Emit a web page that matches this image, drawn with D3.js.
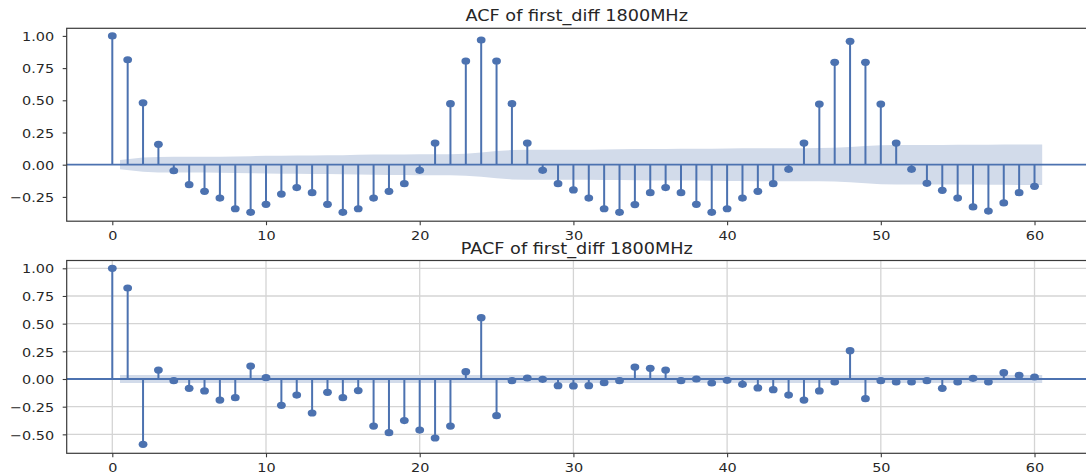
<!DOCTYPE html>
<html>
<head>
<meta charset="utf-8">
<script src="https://cdn.jsdelivr.net/npm/d3@7"></script>
<style>
  body { margin: 0; background: #fff; }
  svg { display: block; }
  text { font-family: "DejaVu Sans", sans-serif; fill: #262626; }
</style>
</head>
<body>
<svg id="chart" width="1086" height="475"></svg>
<script>
// Lags 0..60
const lags = d3.range(0, 61);

// Autocorrelation of the first-differenced 1800MHz series
const acfValues = [
  1.000, 0.815, 0.481, 0.158, -0.047, -0.155, -0.207, -0.259, -0.342, -0.370,
  -0.308, -0.228, -0.178, -0.217, -0.308, -0.370, -0.342, -0.259, -0.207, -0.147,
  -0.044, 0.168, 0.474, 0.805, 0.968, 0.805, 0.474, 0.168, -0.044, -0.147,
  -0.196, -0.259, -0.342, -0.370, -0.310, -0.217, -0.178, -0.217, -0.308, -0.370,
  -0.342, -0.259, -0.207, -0.147, -0.036, 0.168, 0.471, 0.795, 0.958, 0.795,
  0.471, 0.168, -0.036, -0.145, -0.199, -0.259, -0.328, -0.360, -0.297, -0.217,
  -0.168
];

// Half-width of the ACF confidence band at lags 1..60
const acfBand = [
  0.036, 0.055, 0.060, 0.061, 0.061, 0.061, 0.062, 0.064, 0.066, 0.069,
  0.070, 0.071, 0.072, 0.073, 0.074, 0.077, 0.079, 0.080, 0.080, 0.081,
  0.081, 0.081, 0.085, 0.094, 0.106, 0.114, 0.116, 0.117, 0.117, 0.117,
  0.117, 0.118, 0.119, 0.121, 0.122, 0.122, 0.123, 0.123, 0.124, 0.126,
  0.127, 0.128, 0.128, 0.128, 0.128, 0.129, 0.131, 0.137, 0.145, 0.151,
  0.153, 0.153, 0.153, 0.153, 0.154, 0.154, 0.155, 0.156, 0.157, 0.157
];

// Partial autocorrelation of the same series
const pacfValues = [
  1.000, 0.822, -0.590, 0.081, -0.015, -0.084, -0.108, -0.190, -0.169, 0.117,
  0.012, -0.238, -0.145, -0.307, -0.120, -0.169, -0.105, -0.425, -0.485, -0.376,
  -0.461, -0.533, -0.425, 0.066, 0.554, -0.331, -0.015, 0.009, -0.003, -0.060,
  -0.063, -0.060, -0.033, -0.015, 0.108, 0.096, 0.081, -0.015, 0.000, -0.036,
  -0.012, -0.048, -0.081, -0.096, -0.145, -0.190, -0.108, -0.027, 0.256, -0.178,
  -0.015, -0.027, -0.027, -0.015, -0.084, -0.027, 0.006, -0.027, 0.057, 0.033,
  0.018
];

// Half-width of the PACF confidence band (constant)
const pacfBandWidth = 0.036;

const xTicks = [0, 10, 20, 30, 40, 50, 60];
const acfTicks = [-0.25, 0, 0.25, 0.5, 0.75, 1.0];
const pacfTicks = [-0.5, -0.25, 0, 0.25, 0.5, 0.75, 1.0];
const titles = ["ACF of first_diff 1800MHz", "PACF of first_diff 1800MHz"];

const BLUE = "#4c72b0";
const BAND = "#d2dbea";
const GRID = "#d4d4d4";
const FRAME = "#3a3a3a";
const TEXT_SX = 1.11;   // horizontal stretch of labels
const TITLE_SX = 1.14;

const svg = d3.select("#chart");

const xScale = d3.scaleLinear().domain([-2.967, 63.61]).range([66.7, 1090]);

const panels = [
  {
    values: acfValues,
    band: lags.slice(1).map((l, i) => ({ lag: l, hw: acfBand[i] })),
    ticks: acfTicks,
    title: titles[0],
    top: 28.3, bottom: 221.2,
    yDomain: [-0.4387, 1.059],
    grid: false,
    titleY: 21
  },
  {
    values: pacfValues,
    band: lags.slice(1).map(l => ({ lag: l, hw: pacfBandWidth })),
    ticks: pacfTicks,
    title: titles[1],
    top: 260.5, bottom: 453.3,
    yDomain: [-0.6712, 1.0705],
    grid: true,
    titleY: 253.5
  }
];

panels.forEach((p, idx) => {
  const y = d3.scaleLinear().domain(p.yDomain).range([p.bottom, p.top]);
  const x0 = xScale.range()[0], x1 = xScale.range()[1];
  const g = svg.append("g");

  const clipId = "clip" + idx;
  svg.append("clipPath").attr("id", clipId)
    .append("rect").attr("x", x0).attr("y", p.top)
    .attr("width", x1 - x0).attr("height", p.bottom - p.top);

  const plot = g.append("g").attr("clip-path", `url(#${clipId})`);

  // grid
  if (p.grid) {
    plot.selectAll("line.gx").data(xTicks).join("line")
      .attr("x1", d => xScale(d)).attr("x2", d => xScale(d))
      .attr("y1", p.top).attr("y2", p.bottom)
      .attr("stroke", GRID).attr("stroke-width", 1.3);
    plot.selectAll("line.gy").data(p.ticks).join("line")
      .attr("x1", x0).attr("x2", x1)
      .attr("y1", d => y(d)).attr("y2", d => y(d))
      .attr("stroke", GRID).attr("stroke-width", 1.3);
  }

  // confidence band: first and last edges pushed out by half a lag
  const n = p.band.length;
  const bx = (d, i) => xScale(i === 0 ? d.lag - 0.5 : i === n - 1 ? d.lag + 0.5 : d.lag);
  const area = d3.area()
    .x(bx)
    .y0(d => y(-d.hw))
    .y1(d => y(d.hw));
  plot.append("path").datum(p.band)
    .attr("d", area)
    .attr("fill", BAND);

  // stems
  plot.selectAll("line.stem").data(p.values).join("line")
    .attr("x1", (d, i) => xScale(lags[i])).attr("x2", (d, i) => xScale(lags[i]))
    .attr("y1", y(0)).attr("y2", d => y(d))
    .attr("stroke", BLUE).attr("stroke-width", 2);

  // zero line
  plot.append("line")
    .attr("x1", x0).attr("x2", x1)
    .attr("y1", y(0)).attr("y2", y(0))
    .attr("stroke", BLUE).attr("stroke-width", 1.8);

  // markers
  plot.selectAll("ellipse").data(p.values).join("ellipse")
    .attr("cx", (d, i) => xScale(lags[i]))
    .attr("cy", d => y(d))
    .attr("rx", 4.4).attr("ry", 3.6)
    .attr("fill", BLUE);

  // frame
  g.append("rect")
    .attr("x", x0).attr("y", p.top)
    .attr("width", x1 - x0).attr("height", p.bottom - p.top)
    .attr("fill", "none").attr("stroke", FRAME).attr("stroke-width", 1.2);

  // y axis
  const yAxis = g.append("g").attr("transform", `translate(${x0},0)`)
    .call(d3.axisLeft(y).tickValues(p.ticks).tickSize(4).tickFormat(d3.format(".2f")));
  yAxis.select(".domain").remove();
  yAxis.selectAll(".tick line").attr("stroke", FRAME).attr("stroke-width", 1.1);
  yAxis.selectAll(".tick text")
    .attr("x", null).attr("dy", "0.36em")
    .attr("transform", `translate(-12.5,0) scale(${TEXT_SX},1)`)
    .style("font-size", "13px").style("font-family", "'DejaVu Sans', sans-serif")
    .attr("fill", "#262626");

  // x axis
  const xAxis = g.append("g").attr("transform", `translate(0,${p.bottom})`)
    .call(d3.axisBottom(xScale).tickValues(xTicks).tickSize(4).tickFormat(d3.format("d")));
  xAxis.select(".domain").remove();
  xAxis.selectAll(".tick line").attr("stroke", FRAME).attr("stroke-width", 1.1);
  xAxis.selectAll(".tick text")
    .attr("y", null).attr("dy", null)
    .attr("transform", `translate(0,18.5) scale(${TEXT_SX},1)`)
    .style("font-size", "13px").style("font-family", "'DejaVu Sans', sans-serif")
    .attr("fill", "#262626");

  // title
  svg.append("text")
    .attr("transform", `translate(576.7,${p.titleY}) scale(${TITLE_SX},1)`)
    .attr("text-anchor", "middle")
    .style("font-size", "15.5px")
    .text(p.title);
});
</script>
</body>
</html>
